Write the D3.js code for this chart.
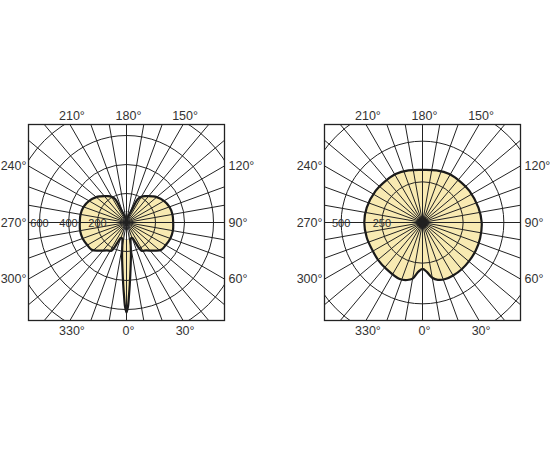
<!DOCTYPE html>
<html>
<head>
<meta charset="utf-8">
<script src="https://cdn.jsdelivr.net/npm/d3@7"></script>
<style>
body { margin: 0; background: #fff; }
svg { display: block; }
text { font-family: "Liberation Sans", Arial, sans-serif; fill: #333; }
</style>
</head>
<body>
<svg></svg>
<script>
// angle labels (0 = down, 90 = right, 180 = up, 270 = left)
const angleTicks = [0, 30, 60, 90, 120, 150, 180, 210, 240, 270, 300, 330];

// left diagram: luminous intensity (cd) per angle
const leftRings = [200, 400, 600, 800];
const leftRingLabels = [200, 400, 600];
const leftAngles = [0, 1, 2, 3, 5, 8, 11, 15, 20, 24, 28, 35, 45, 52, 60, 70, 80, 90, 100, 110, 120, 130, 135, 140, 144, 150, 154, 157, 165, 172,
  180, 188, 195, 203, 206, 210, 216, 220, 225, 230, 240, 250, 260, 270, 280, 290, 300, 308, 315, 325, 332, 336, 340, 345, 349, 352, 355, 357, 358, 359];
const leftValues = [620, 580, 500, 430, 320, 220, 150, 115, 112, 150, 220, 235, 275, 305, 312, 322, 325, 322, 322, 315, 298, 272, 255, 238, 225, 205, 180, 100, 40, 18,
  8, 18, 40, 100, 180, 205, 225, 238, 255, 272, 298, 315, 322, 322, 325, 322, 312, 305, 275, 235, 220, 150, 112, 115, 150, 220, 320, 430, 500, 580];

// right diagram
const rightRings = [250, 500, 750];
const rightRingLabels = [250, 500];
const rightAngles = [0, 5, 10, 15, 22, 30, 40, 50, 62, 75, 90, 105, 124, 135, 151, 165, 180, 195, 209, 225, 236, 255, 270, 285, 299, 310, 322, 338, 345, 350, 355];
const rightValues = [285, 305, 345, 365, 375, 376, 375, 372, 370, 367, 364, 356, 348, 343, 341, 332, 324, 332, 341, 343, 348, 355, 358, 355, 352, 357, 362, 375, 366, 350, 305];

const svg = d3.select('svg')
    .attr('width', 550)
    .attr('height', 450);

const defs = svg.append('defs');

function drawPolar(id, cx, cy, half, maxVal, maxR, rings, ringLabels, angles, values) {
    const r = d3.scaleLinear().domain([0, maxVal]).range([0, maxR]);
    const toRad = d => Math.PI - d * Math.PI / 180;

    defs.append('clipPath').attr('id', 'clip' + id)
        .append('rect')
        .attr('x', cx - half).attr('y', cy - half)
        .attr('width', half * 2).attr('height', half * 2);

    const grad = defs.append('radialGradient').attr('id', 'fill' + id)
        .attr('gradientUnits', 'userSpaceOnUse')
        .attr('cx', cx).attr('cy', cy).attr('r', 65);
    grad.append('stop').attr('offset', 0).attr('stop-color', '#fdf6d8');
    grad.append('stop').attr('offset', 1).attr('stop-color', '#f8eab2');

    const g = svg.append('g');
    const inner = g.append('g').attr('transform', 'translate(' + cx + ',' + cy + ')');

    const pts = angles.map((a, i) => [toRad(a), r(values[i])]);
    const line = d3.lineRadial()
        .curve(d3.curveCatmullRomClosed.alpha(0.5));

    inner.append('path')
        .attr('d', line(pts))
        .attr('fill', 'url(#fill' + id + ')');

    const grid = g.append('g').attr('clip-path', 'url(#clip' + id + ')')
        .append('g').attr('transform', 'translate(' + cx + ',' + cy + ')');

    grid.selectAll('circle')
        .data(rings)
        .enter()
        .append('circle')
        .attr('r', d => r(d))
        .attr('fill', 'none')
        .attr('stroke', '#222')
        .attr('stroke-width', 1);

    grid.selectAll('line')
        .data(d3.range(0, 360, 10))
        .enter()
        .append('line')
        .attr('x1', 0).attr('y1', 0)
        .attr('x2', d => 200 * Math.sin(d * Math.PI / 180))
        .attr('y2', d => 200 * Math.cos(d * Math.PI / 180))
        .attr('stroke', '#222')
        .attr('stroke-width', 1);

    if (id === 'L') {
        inner.append('rect')
            .attr('x', -3).attr('y', -11).attr('width', 6).attr('height', 28).attr('rx', 2)
            .attr('fill', '#fff').attr('stroke', '#999').attr('stroke-width', 0.8);
        inner.append('rect')
            .attr('x', -1.8).attr('y', 3).attr('width', 3.6).attr('height', 4)
            .attr('fill', '#fff').attr('stroke', '#777').attr('stroke-width', 0.8);
    } else {
        inner.append('circle').attr('r', 5.5).attr('fill', '#2a2218');
    }

    inner.append('path')
        .attr('d', line(pts))
        .attr('fill', 'none')
        .attr('stroke', '#1a1a1a')
        .attr('stroke-width', 2.2)
        .attr('stroke-linejoin', 'round');

    g.append('rect')
        .attr('x', cx - half).attr('y', cy - half)
        .attr('width', half * 2).attr('height', half * 2)
        .attr('fill', 'none')
        .attr('stroke', '#222')
        .attr('stroke-width', 1.3);

    // ring value labels along 270°
    g.selectAll('text.ring')
        .data(ringLabels)
        .enter()
        .append('text')
        .attr('class', 'ring')
        .attr('x', d => cx - r(d))
        .attr('y', cy + 4)
        .attr('text-anchor', 'middle')
        .attr('font-size', 11)
        .text(d => d);

    // angle labels at box edges
    g.selectAll('text.ang')
        .data(angleTicks)
        .enter()
        .append('text')
        .attr('class', 'ang')
        .attr('font-size', 12.5)
        .each(function (d) {
            const s = Math.sin(d * Math.PI / 180), c = Math.cos(d * Math.PI / 180);
            const t = half / Math.max(Math.abs(s), Math.abs(c));
            const px = cx + t * s, py = cy + t * c;
            const el = d3.select(this);
            if (Math.abs(c) >= Math.abs(s)) {
                el.attr('text-anchor', 'middle').attr('x', px + 2)
                  .attr('y', c < 0 ? py - 5 : py + 14);
            } else if (s < 0) {
                el.attr('text-anchor', 'end').attr('x', px - 2).attr('y', py + 4);
            } else {
                el.attr('text-anchor', 'start').attr('x', px + 4).attr('y', py + 4);
            }
        })
        .text(d => d + '°');
}

drawPolar('L', 126.5, 222.5, 98, 800, 116, leftRings, leftRingLabels, leftAngles, leftValues);
drawPolar('R', 422.5, 222.5, 98, 750, 122, rightRings, rightRingLabels, rightAngles, rightValues);
</script>
</body>
</html>
